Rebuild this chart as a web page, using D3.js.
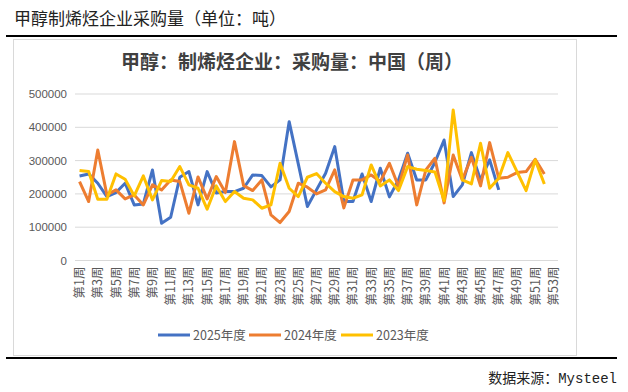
<!DOCTYPE html>
<html><head><meta charset="utf-8">
<script src="https://cdn.jsdelivr.net/npm/d3@7"></script>
<style>body{margin:0;background:#fff}svg{display:block}</style>
</head><body>
<script>
const weeks = d3.range(1, 54).map(i => `第${i}周`);
const seriesNames = ["2025年度", "2024年度", "2023年度"];
const seriesColors = ["#4472C4", "#ED7D31", "#FFC000"];
const yTicks = [0, 100000, 200000, 300000, 400000, 500000];
const v2025 = [254000,260000,232000,192000,204000,232000,167000,170000,272000,112000,130000,250000,267000,167000,267000,203000,207000,207000,217000,257000,255000,221000,242000,417000,290000,162000,212000,262000,342000,177000,177000,260000,177000,277000,191000,242000,322000,242000,242000,295000,362000,192000,227000,324000,242000,302000,212000];
const v2024 = [237000,177000,332000,197000,212000,185000,197000,167000,227000,212000,242000,237000,142000,251000,185000,252000,204000,357000,225000,210000,242000,137000,114000,147000,232000,220000,200000,212000,272000,158000,242000,242000,257000,237000,292000,222000,317000,167000,272000,307000,173000,317000,242000,310000,224000,354000,247000,250000,264000,267000,304000,260000];
const v2023 = [270000,267000,184000,184000,260000,244000,194000,254000,182000,240000,237000,282000,227000,217000,154000,224000,177000,207000,187000,182000,157000,167000,292000,217000,192000,250000,261000,232000,207000,192000,187000,197000,287000,224000,242000,210000,282000,274000,270000,266000,180000,452000,242000,230000,352000,217000,247000,324000,267000,210000,302000,230000];
const seriesValues = [v2025, v2024, v2023];

const W = 628, H = 392;
const svg = d3.select("body").append("svg").attr("width", W).attr("height", H);
const cjk = "'Noto Sans CJK SC', 'Noto Sans', sans-serif";

// page title
svg.append("text").attr("x", 14).attr("y", 25).attr("font-family", cjk)
  .attr("font-size", 17).attr("fill", "#222").text("甲醇制烯烃企业采购量（单位：吨）");
svg.append("line").attr("x1", 6).attr("x2", 617).attr("y1", 36).attr("y2", 36)
  .attr("stroke", "#000").attr("stroke-width", 2.2);
svg.append("line").attr("x1", 6).attr("x2", 617).attr("y1", 358).attr("y2", 358)
  .attr("stroke", "#000").attr("stroke-width", 2.2);

// chart box
svg.append("rect").attr("x", 13.5).attr("y", 39.5).attr("width", 563).attr("height", 316)
  .attr("fill", "#fff").attr("stroke", "#d9d9d9");

svg.append("text").attr("x", 292).attr("y", 69).attr("text-anchor", "middle")
  .attr("font-family", cjk).attr("font-size", 19).attr("font-weight", "bold")
  .attr("fill", "#404040").text("甲醇：制烯烃企业：采购量：中国（周）");

const x = d3.scaleBand().domain(weeks).range([75, 558]);
const y = d3.scaleLinear().domain([0, 500000]).range([260.5, 94]);

// grid
svg.append("g").selectAll("line").data(yTicks).join("line")
  .attr("x1", 75).attr("x2", 558).attr("y1", d => y(d)).attr("y2", d => y(d))
  .attr("stroke", "#d9d9d9").attr("stroke-width", 1);

const yAxis = svg.append("g").attr("transform", "translate(75,0)")
  .call(d3.axisLeft(y).tickValues(yTicks).tickFormat(d => String(d)).tickSize(0).tickPadding(8));
yAxis.select(".domain").remove();
yAxis.selectAll("text").attr("font-family", "'Liberation Sans', sans-serif").attr("font-size", 11.5).attr("fill", "#595959");

const xAxis = svg.append("g").attr("transform", "translate(0,260.5)")
  .call(d3.axisBottom(x).tickValues(weeks.filter((d, i) => i % 2 === 0)).tickSize(0));
xAxis.select(".domain").remove();
xAxis.selectAll("text").attr("font-family", cjk).attr("font-size", 12.5).attr("fill", "#595959")
  .attr("text-anchor", "end").attr("dy", null).attr("y", 0)
  .attr("transform", "translate(4.5,6) rotate(-90)");

const line = d3.line().x((d, i) => x(weeks[i]) + x.bandwidth() / 2).y(d => y(d));
seriesValues.forEach((vals, k) => {
  svg.append("path").datum(vals).attr("d", line).attr("fill", "none")
    .attr("stroke", seriesColors[k]).attr("stroke-width", 3).attr("stroke-linejoin", "round");
});

// legend
const legX = [158, 249, 341];
seriesNames.forEach((n, k) => {
  const g = svg.append("g").attr("transform", `translate(${legX[k]},335)`);
  g.append("line").attr("x1", 0).attr("x2", 32).attr("stroke", seriesColors[k]).attr("stroke-width", 3);
  g.append("text").attr("x", 35).attr("y", 4.5).attr("font-family", cjk).attr("font-size", 12.5)
    .attr("fill", "#595959").text(n);
});

svg.append("text").attr("x", 617).attr("y", 383).attr("text-anchor", "end")
  .attr("font-family", "'Liberation Mono', 'Noto Sans CJK SC', monospace").attr("font-size", 14)
  .attr("fill", "#222").text("数据来源：Mysteel");
</script>
</body></html>
